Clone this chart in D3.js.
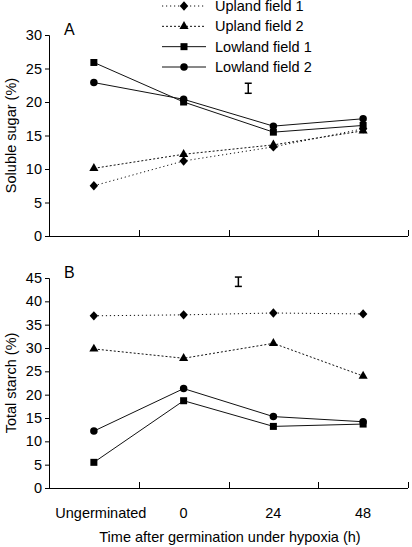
<!DOCTYPE html>
<html><head><meta charset="utf-8">
<script src="https://cdn.jsdelivr.net/npm/d3@7"></script>
<style>body{margin:0;background:#fff}svg{display:block;font-family:"Liberation Sans",Arial,sans-serif}</style>
</head><body>
<script>
const categories = ["Ungerminated","0","24","48"];
const seriesNames = ["Upland field 1","Upland field 2","Lowland field 1","Lowland field 2"];
const sugarUpland1 = [7.5, 11.2, 13.3, 16.0];
const sugarUpland2 = [10.1, 12.2, 13.6, 15.7];
const sugarLowland1 = [25.9, 20.0, 15.5, 16.5];
const sugarLowland2 = [22.9, 20.4, 16.4, 17.5];
const starchUpland1 = [36.9, 37.1, 37.5, 37.3];
const starchUpland2 = [29.8, 27.8, 31.0, 24.0];
const starchLowland1 = [5.5, 18.7, 13.2, 13.7];
const starchLowland2 = [12.2, 21.3, 15.3, 14.2];
const sugarTicks = [0,5,10,15,20,25,30];
const starchTicks = [0,5,10,15,20,25,30,35,40,45];
// error bars: position as fractional category index, centre value, half-length
const sugarErr = {pos: 1.72, value: 22.05, half: 0.75};
const starchErr = {pos: 1.61, value: 44.2, half: 1.0};

const W = 412, H = 547;
const svg = d3.select("body").append("svg").attr("width", W).attr("height", H);
const styles = [
  {dash: "1.2,2.8", marker: "diamond"},
  {dash: "2,2", marker: "triangle"},
  {dash: null, marker: "square"},
  {dash: null, marker: "circle"}
];
const squareDiamond = {draw(ctx, size) { const r = Math.sqrt(size) / 2; ctx.moveTo(0, -r * 1.1); ctx.lineTo(r, 0); ctx.lineTo(0, r * 1.1); ctx.lineTo(-r, 0); ctx.closePath(); }};
const symType = {diamond: squareDiamond, triangle: d3.symbolTriangle, square: d3.symbolSquare, circle: d3.symbolCircle};
const symSize = {diamond: 72, triangle: 36, square: 49, circle: 44};
const FS = 14.5;

const x = d3.scaleBand().domain(categories).range([49, 408]);
const posX = p => x(categories[0]) + x.step() * (p + 0.5);

function marker(g, type, cx, cy) {
  g.append("path").attr("d", d3.symbol().type(symType[type]).size(symSize[type])())
    .attr("transform", `translate(${cx},${cy})`).attr("fill", "#000");
}

function panel(top, bottom, maxV, ticks, data, label, ytitle, err) {
  const y = d3.scaleLinear().domain([0, maxV]).range([bottom, top]);
  const g = svg.append("g");
  const ya = g.append("g").attr("transform", "translate(49,0)")
    .call(d3.axisLeft(y).tickValues(ticks).tickSize(4).tickPadding(3));
  ya.select(".domain").attr("stroke", "#000");
  ya.selectAll("text").attr("font-size", FS).attr("font-family", "Liberation Sans, Arial, sans-serif").attr("fill", "#000");
  g.append("line").attr("x1", 49).attr("x2", 408).attr("y1", bottom + 0.5).attr("y2", bottom + 0.5).attr("stroke", "#000");
  categories.forEach(c => {
    const tx = Math.round(x(c) + x.bandwidth()) + 0.5;
    g.append("line").attr("x1", tx).attr("x2", tx).attr("y1", bottom).attr("y2", bottom - 6).attr("stroke", "#000");
  });
  const line = d3.line().x((d, i) => x(categories[i]) + x.bandwidth() / 2).y(d => y(d));
  data.forEach((vals, si) => {
    g.append("path").datum(vals).attr("d", line).attr("fill", "none").attr("stroke", "#111")
      .attr("stroke-width", 1).attr("stroke-dasharray", styles[si].dash);
  });
  data.forEach((vals, si) => {
    vals.forEach((v, i) => marker(g, styles[si].marker, x(categories[i]) + x.bandwidth() / 2, y(v)));
  });
  const ex = posX(err.pos);
  const e1 = y(err.value + err.half), e2 = y(err.value - err.half);
  g.append("line").attr("x1", ex).attr("x2", ex).attr("y1", e1).attr("y2", e2).attr("stroke", "#000").attr("stroke-width", 1.5);
  [e1, e2].forEach(ey => g.append("line").attr("x1", ex - 3.5).attr("x2", ex + 3.5).attr("y1", ey).attr("y2", ey).attr("stroke", "#000").attr("stroke-width", 1.5));
  g.append("text").attr("x", 64).attr("y", top).attr("font-size", 16).attr("fill", "#000").text(label);
  g.append("text").attr("transform", `translate(16,${(top + bottom) / 2}) rotate(-90)`)
    .attr("text-anchor", "middle").attr("font-size", FS).attr("fill", "#000").text(ytitle);
  return y;
}

panel(35, 236, 30, sugarTicks, [sugarUpland1, sugarUpland2, sugarLowland1, sugarLowland2], "A", "Soluble sugar (%)", sugarErr);
panel(278, 488, 45, starchTicks, [starchUpland1, starchUpland2, starchLowland1, starchLowland2], "B", "Total starch (%)", starchErr);

categories.forEach((c, i) => {
  svg.append("text").attr("x", x(c) + x.bandwidth() / 2).attr("dx", i === 0 ? 7 : 0).attr("y", 518).attr("text-anchor", "middle")
    .attr("font-size", FS).attr("fill", "#000").text(c);
});
svg.append("text").attr("x", 230).attr("y", 542).attr("text-anchor", "middle").attr("font-size", FS)
  .attr("fill", "#000").text("Time after germination under hypoxia (h)");

const legY = d3.scalePoint().domain(seriesNames).range([6, 67]);
seriesNames.forEach((n, si) => {
  const ly = legY(n);
  svg.append("line").attr("x1", 162).attr("x2", 206).attr("y1", ly).attr("y2", ly).attr("stroke", "#111")
    .attr("stroke-dasharray", styles[si].dash);
  marker(svg, styles[si].marker, 184, ly);
  svg.append("text").attr("x", 215).attr("y", ly + 5).attr("font-size", FS).attr("fill", "#000").text(n);
});
</script>
</body></html>
